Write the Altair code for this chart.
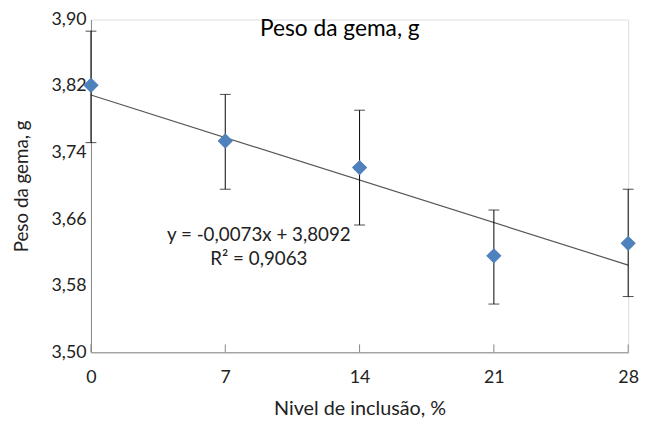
import altair as alt
import pandas as pd

# Data
levels = [0, 7, 14, 21, 28]
means = [3.821, 3.754, 3.722, 3.616, 3.631]
err_low = [3.752, 3.696, 3.653, 3.558, 3.567]
err_high = [3.886, 3.810, 3.791, 3.671, 3.696]
trend_x = [0, 28]
trend_y = [3.8092, 3.6048]
y_ticks = [3.50, 3.58, 3.66, 3.74, 3.82, 3.90]
x_ticks = [0, 7, 14, 21, 28]
title_text = "Peso da gema, g"
eq_lines = ["y = -0,0073x + 3,8092", "R² = 0,9063"]

FONT = "Lato"
df = pd.DataFrame({"x": levels, "m": means, "lo": err_low, "hi": err_high})
tr = pd.DataFrame({"x": trend_x, "y": trend_y})
tk = pd.DataFrame({"x": x_ticks})

xs = alt.Scale(domain=[0, 28], nice=False, zero=False)
ys = alt.Scale(domain=[3.50, 3.90], nice=False, zero=False)

xaxis = alt.Axis(values=x_ticks, title="Nivel de inclusão, %", grid=False, tickSize=0,
                 labelPadding=17, domainColor="#868686", labelFont=FONT, labelFontSize=18,
                 labelColor="#222", titleFont=FONT, titleFontSize=20, titleFontWeight="normal",
                 titleColor="#222", titlePadding=12, labelFlush=False)
yaxis = alt.Axis(values=y_ticks, title="Peso da gema, g", grid=False, tickSize=0,
                 labelPadding=5, domainColor="#868686", labelFont=FONT, labelFontSize=18,
                 labelColor="#222", titleFont=FONT, titleFontSize=19, titleFontWeight="normal",
                 titleColor="#222", titlePadding=20,
                 labelExpr="replace(format(datum.value, '.2f'), '.', ',')")

base = alt.Chart(df)

bars = base.mark_rule(color="black", strokeWidth=1).encode(
    x=alt.X("x:Q", scale=xs, axis=xaxis),
    y=alt.Y("lo:Q", scale=ys, axis=yaxis),
    y2="hi:Q",
)
cap_lo = base.mark_tick(color="black", thickness=1, size=11, orient="horizontal").encode(
    x=alt.X("x:Q", scale=xs), y=alt.Y("lo:Q", scale=ys))
cap_hi = base.mark_tick(color="black", thickness=1, size=11, orient="horizontal").encode(
    x=alt.X("x:Q", scale=xs), y=alt.Y("hi:Q", scale=ys))

trend = alt.Chart(tr).mark_line(color="#555555", strokeWidth=1.2).encode(
    x=alt.X("x:Q", scale=xs), y=alt.Y("y:Q", scale=ys))

pts = base.mark_point(shape="diamond", filled=True, color="#4F81BD", opacity=1, size=240).encode(
    x=alt.X("x:Q", scale=xs), y=alt.Y("m:Q", scale=ys))

ticks = alt.Chart(tk).mark_rule(color="#868686").encode(
    x=alt.X("x:Q", scale=xs), y=alt.value(337), y2=alt.value(329))

title = alt.Chart(pd.DataFrame({"t": [title_text]})).mark_text(
    font=FONT, fontSize=23, color="black", align="center", baseline="middle").encode(
    text="t:N", x=alt.value(252), y=alt.value(10))

eq = alt.Chart(pd.DataFrame({"t": eq_lines, "yy": [218, 243]})).mark_text(
    font=FONT, fontSize=19, color="#222", align="center", baseline="middle").encode(
    text="t:N", x=alt.value(170), y=alt.Y("yy:Q", scale=None))

chart = alt.layer(ticks, trend, bars, cap_lo, cap_hi, pts, title, eq).properties(
    width=544, height=337,
    padding={"left": 84, "top": 9, "right": 14, "bottom": 74},
    autosize=alt.AutoSizeParams(type="none"),
).configure_view(stroke=None).configure(background="white")

chart.save("out.html", embed_options={"renderer": "svg", "actions": False})
